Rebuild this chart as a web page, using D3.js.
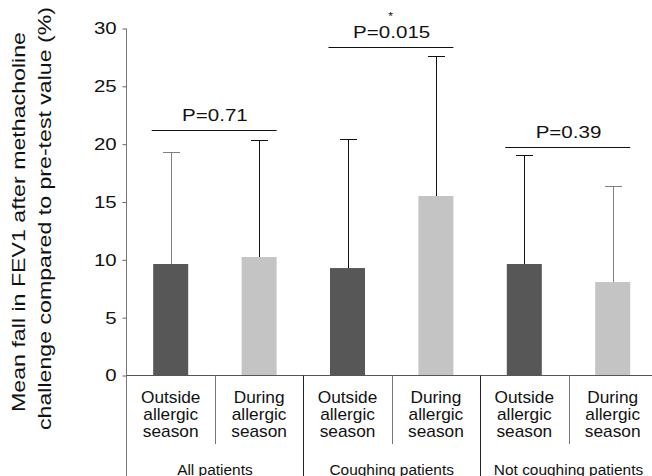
<!DOCTYPE html>
<html>
  <head>
    <meta charset="utf-8">
    <title>Mean fall in FEV1 after methacholine challenge</title>
    <script src="https://d3js.org/d3.v7.min.js"></script>
    <style>
      body { margin: 0; background: #fff; }
      svg { display: block; font-family: "Liberation Sans", Arial, Helvetica, sans-serif; }
    </style>
  </head>
  <body>
    <svg id="chart" width="652" height="476"></svg>
    <script>
      // values
      const groups = ["All patients", "Coughing patients", "Not coughing patients"];
      const seasonLines = [["Outside", "allergic", "season"], ["During", "allergic", "season"]];
      const means = [9.64, 10.24, 9.29, 15.52, 9.64, 8.08];
      const upperErrors = [19.35, 20.39, 20.42, 27.62, 19.04, 16.36];
      const pLabels = ["P=0.71", "P=0.015", "P=0.39"];
      const pLevels = [21.22, 28.43, 19.76];
      const pStars = ["", "*", ""];
      const yTicks = [0, 5, 10, 15, 20, 25, 30];
      const yTitle = ["Mean fall in FEV1 after methacholine", "challenge compared to pre-test value (%)"];

      // styling
      const barColors = ["#575757", "#c4c4c4"];
      const errColors = ["#808080", "#111", "#111", "#111", "#111", "#808080"];

      const width = 652, height = 476;
      const svg = d3.select("#chart");

      // one row per bar
      let bars = [];
      groups.forEach(function(g, gi) {
        seasonLines.forEach(function(s, si) {
          let i = gi * 2 + si;
          bars.push({ i: i, group: gi, season: si, mean: means[i], upper: upperErrors[i] });
        });
      });

      const x = d3.scaleBand()
        .domain(d3.range(bars.length))
        .range([126.5, 126.5 + 6 * 88.4])
        .paddingInner(0.604)
        .paddingOuter(0.302);
      const y = d3.scaleLinear()
        .domain([0, 30])
        .range([375.5, 28.5]);

      const step = x.step();
      const slotLeft = function(i) { return x(i) + x.bandwidth() / 2 - step / 2; };
      const slotMid = function(i) { return x(i) + x.bandwidth() / 2; };

      // stretched text helper (the original type runs wide)
      function label(parent, txt, px, py, size, stretch, anchor) {
        return parent.append("text")
          .attr("transform", "translate(" + px + "," + py + ") scale(" + stretch + ",1)")
          .attr("text-anchor", anchor || "middle")
          .attr("font-size", size)
          .attr("fill", "#111")
          .text(txt);
      }

      // bars
      svg.append("g")
        .selectAll("rect")
        .data(bars)
        .join("rect")
          .attr("x", function(d) { return x(d.i); })
          .attr("y", function(d) { return y(d.mean); })
          .attr("width", x.bandwidth())
          .attr("height", function(d) { return y(0) - y(d.mean); })
          .attr("fill", function(d) { return barColors[d.season]; });

      // error bars (upper only)
      const errGroup = svg.append("g");
      bars.forEach(function(d) {
        let cx = Math.round(slotMid(d.i)) + 0.5;
        let top = Math.round(y(d.upper)) + 0.5;
        errGroup.append("line")
          .attr("x1", cx).attr("x2", cx)
          .attr("y1", y(d.mean)).attr("y2", top)
          .attr("stroke", errColors[d.i]);
        errGroup.append("line")
          .attr("x1", cx - 8.5).attr("x2", cx + 8.5)
          .attr("y1", top).attr("y2", top)
          .attr("stroke", errColors[d.i]);
      });

      // y axis
      const axis = d3.axisLeft(y)
        .tickValues(yTicks)
        .tickSize(4)
        .tickSizeOuter(0);
      const axisGroup = svg.append("g")
        .attr("transform", "translate(126.5,0)")
        .call(axis);
      axisGroup.select(".domain").remove();
      axisGroup.selectAll(".tick line").attr("stroke", "#666");
      axisGroup.selectAll(".tick text")
        .attr("x", -9.8 / 1.2)
        .attr("transform", "scale(1.2,1)")
        .attr("font-size", 17)
        .attr("fill", "#111");
      axisGroup.attr("font-family", null).attr("font-size", null);

      // frame: y axis line, baseline, dividers
      const frame = svg.append("g").attr("fill", "none");
      frame.append("line")
        .attr("x1", 126.5).attr("x2", 126.5)
        .attr("y1", y(30)).attr("y2", height)
        .attr("stroke", "#777");
      frame.append("line")
        .attr("x1", 126.5).attr("x2", width)
        .attr("y1", y(0)).attr("y2", y(0))
        .attr("stroke", "#555");
      bars.forEach(function(d) {
        if (d.i == 0) return;
        let lx = Math.round(slotLeft(d.i)) + 0.5;
        frame.append("line")
          .attr("x1", lx).attr("x2", lx)
          .attr("y1", y(0))
          .attr("y2", d.season == 0 ? height : 444)
          .attr("stroke", d.season == 0 ? "#222" : "#777");
      });

      // category labels
      const catGroup = svg.append("g");
      bars.forEach(function(d) {
        seasonLines[d.season].forEach(function(line, li) {
          label(catGroup, line, slotMid(d.i), 403 + li * 17, 16, 1.08);
        });
      });

      // group labels
      const groupLabels = svg.append("g");
      groups.forEach(function(g, gi) {
        label(groupLabels, g, slotLeft(gi * 2 + 1), 474.5, 15, 1.03);
      });

      // significance brackets
      const sig = svg.append("g");
      pLabels.forEach(function(p, gi) {
        let a = gi * 2, b = gi * 2 + 1;
        let ly = Math.round(y(pLevels[gi])) + 0.5;
        let mid = (x(a) + x(b) + x.bandwidth()) / 2;
        let base = ly - 9.5;
        sig.append("line")
          .attr("x1", x(a) - 1.5).attr("x2", x(b) + x.bandwidth())
          .attr("y1", ly).attr("y2", ly)
          .attr("stroke", "#111");
        label(sig, p, mid, base, 17, 1.21);
        // star sits just clear of the P value's line box
        if (pStars[gi]) label(sig, pStars[gi], mid - 1, base - 0.905 * 17 - 0.212 * 11 - 0.3, 11, 1.1);
      });

      // y axis title
      const titleGroup = svg.append("g")
        .attr("font-size", 18.5)
        .attr("fill", "#111")
        .attr("text-anchor", "middle");
      titleGroup.append("text")
        .attr("transform", "translate(25,222) rotate(-90)")
        .attr("textLength", 380)
        .attr("lengthAdjust", "spacingAndGlyphs")
        .text(yTitle[0]);
      titleGroup.append("text")
        .attr("transform", "translate(51,218.5) rotate(-90)")
        .attr("textLength", 423)
        .attr("lengthAdjust", "spacingAndGlyphs")
        .text(yTitle[1]);
    </script>
  </body>
</html>
